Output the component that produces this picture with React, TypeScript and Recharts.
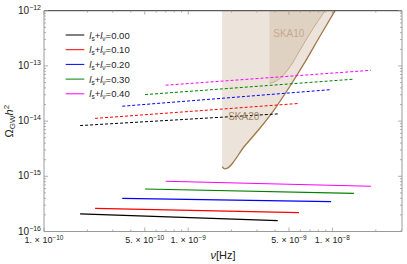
import React from "react";
import {
  ComposedChart,
  Line,
  Area,
  XAxis,
  YAxis,
  Legend,
  Label,
  ReferenceDot,
  ReferenceLine,
} from "recharts";

const FONT = "'Liberation Sans', Arial, sans-serif";

// plot box in page pixels (frame drawn by the axes)
const PLOT = { left: 44, right: 402, top: 10.7, bottom: 231.5 };

// l_s + l_nu values, one colour per curve family
const lsum = ["0.00", "0.10", "0.20", "0.30", "0.40"];
const colors = ["#000000", "#ff0000", "#0000ff", "#008000", "#ff00ff"];

// frequency span of each family [Hz]
const fStart = [1.78e-10, 2.26e-10, 3.49e-10, 5.02e-10, 6.98e-10];
const fEnd = [4.18e-9, 5.87e-9, 9.8e-9, 1.41e-8, 1.85e-8];

// upper (dashed) family
const dashedStart = [8.3e-15, 1.12e-14, 1.86e-14, 3.02e-14, 4.47e-14];
const dashedEnd = [1.35e-14, 2.09e-14, 3.72e-14, 5.75e-14, 8.32e-14];

// lower (solid) family
const solidStart = [2.09e-16, 2.63e-16, 3.98e-16, 5.89e-16, 8.13e-16];
const solidEnd = [1.58e-16, 2.19e-16, 3.47e-16, 4.9e-16, 6.61e-16];

// SKA sensitivity curves
const ska20F = [1.72e-9, 1.793e-9, 2.48e-9, 3.151e-9, 4.004e-9, 5.088e-9, 6.466e-9, 8.216e-9, 1.044e-8];
const ska20Omega = [1.5e-15, 1.36e-15, 3.61e-15, 7.5e-15, 1.69e-14, 4.32e-14, 1.18e-13, 3.48e-13, 1e-12];
const ska10F = [3.66e-9, 4.0e-9, 4.46e-9, 5.09e-9, 5.97e-9, 7.0e-9, 8.89e-9];
const ska10Omega = [4.85e-14, 5.19e-14, 6.39e-14, 9.69e-14, 1.94e-13, 3.9e-13, 1e-12];

// axes
const xDomain = [1e-10, 3.04e-8];
const yDomain = [1e-16, 1e-12];
const xMajor = [1e-10, 5e-10, 1e-9, 5e-9, 1e-8];
const xMant = ["1.", "5.", "1.", "5.", "1."];
const xExp = ["\u221210", "\u221210", "\u22129", "\u22129", "\u22128"];
const xMinor = [
  2e-10, 3e-10, 4e-10, 6e-10, 7e-10, 8e-10, 9e-10,
  2e-9, 3e-9, 4e-9, 6e-9, 7e-9, 8e-9, 9e-9,
  2e-8, 3e-8,
];
const yMajor = [1e-16, 1e-15, 1e-14, 1e-13, 1e-12];
const yExp = ["\u221216", "\u221215", "\u221214", "\u221213", "\u221212"];
const yMinor = [
  2e-16, 3e-16, 4e-16, 5e-16, 6e-16, 7e-16, 8e-16, 9e-16,
  2e-15, 3e-15, 4e-15, 5e-15, 6e-15, 7e-15, 8e-15, 9e-15,
  2e-14, 3e-14, 4e-14, 5e-14, 6e-14, 7e-14, 8e-14, 9e-14,
  2e-13, 3e-13, 4e-13, 5e-13, 6e-13, 7e-13, 8e-13, 9e-13,
];

const FRAME = "#9a9a9a";

const ska20Band = ska20F.map((f, i) => ({ f, band: [ska20Omega[i], 1e-12] }));
const ska20Line = ska20F.map((f, i) => ({ f, v: ska20Omega[i] }));
const ska10Band = ska10F.map((f, i) => ({ f, band: [ska10Omega[i], 1e-12] }));
const ska10Line = ska10F.map((f, i) => ({ f, v: ska10Omega[i] }));

const XTick = (props: any) => {
  const { x, payload } = props;
  const i = xMajor.indexOf(payload.value);
  const len = i >= 0 ? 4 : 2;
  return (
    <g>
      <line x1={x} x2={x} y1={PLOT.bottom} y2={PLOT.bottom - len} stroke={FRAME} strokeWidth={0.8} />
      <line x1={x} x2={x} y1={PLOT.top} y2={PLOT.top + len} stroke={FRAME} strokeWidth={0.8} />
      {i >= 0 && (
        <text x={x} y={PLOT.bottom + 11.5} textAnchor="middle" fontSize={9} fontFamily={FONT} fill="#222">
          {xMant[i]} {"\u00d7"} 10
          <tspan dy={-3.5} fontSize={6.5}>
            {xExp[i]}
          </tspan>
        </text>
      )}
    </g>
  );
};

const YTick = (props: any) => {
  const { y, payload } = props;
  const i = yMajor.indexOf(payload.value);
  const len = i >= 0 ? 4 : 2;
  return (
    <g>
      <line x1={PLOT.left} x2={PLOT.left + len} y1={y} y2={y} stroke={FRAME} strokeWidth={0.8} />
      <line x1={PLOT.right} x2={PLOT.right - len} y1={y} y2={y} stroke={FRAME} strokeWidth={0.8} />
      {i >= 0 && (
        <text x={PLOT.left - 3} y={y + 3} textAnchor="end" fontSize={10} fontFamily={FONT} fill="#222">
          10
          <tspan dy={-4} fontSize={7}>
            {yExp[i]}
          </tspan>
        </text>
      )}
    </g>
  );
};

const XTitle = () => (
  <text x={(PLOT.left + PLOT.right) / 2} y={259} textAnchor="middle" fontSize={11} fontFamily={FONT} fill="#222">
    <tspan fontStyle="italic">{"\u03bd"}</tspan>[Hz]
  </text>
);

const YTitle = () => {
  const cx = 13;
  const cy = (PLOT.top + PLOT.bottom) / 2;
  return (
    <text
      x={cx}
      y={cy}
      transform={`rotate(-90, ${cx}, ${cy})`}
      textAnchor="middle"
      fontSize={11}
      fontFamily={FONT}
      fill="#222"
    >
      {"\u03a9"}
      <tspan dy={2.5} fontSize={8}>
        GW
      </tspan>
      <tspan dy={-2.5} fontStyle="italic">
        h
      </tspan>
      <tspan dy={-4} fontSize={8}>
        2
      </tspan>
    </text>
  );
};

const LegendBox = () => (
  <svg width={90} height={80} style={{ overflow: "visible" }}>
    {lsum.map((v, i) => {
      const y = 7 + i * 14.7;
      return (
        <g key={v}>
          <line x1={3.7} x2={22.3} y1={y} y2={y} stroke={colors[i]} strokeWidth={1} />
          <text x={27.3} y={y + 3.5} fontSize={9.5} fontFamily={FONT} fill="#222">
            <tspan fontStyle="italic">l</tspan>
            <tspan dy={2} fontSize={6.5}>s</tspan>
            <tspan dy={-2}>+</tspan>
            <tspan fontStyle="italic">l</tspan>
            <tspan dy={2} fontSize={6.5}>{"\u03bd"}</tspan>
            <tspan dy={-2}>={v}</tspan>
          </text>
        </g>
      );
    })}
  </svg>
);

export default function App() {
  return (
    <div style={{ position: "absolute", left: 0, top: 0, background: "#fff" }}>
      <ComposedChart
        width={407}
        height={264}
        margin={{ top: PLOT.top, right: 407 - PLOT.right, bottom: 2.5, left: 0 }}
      >
        <XAxis
          dataKey="f"
          type="number"
          scale="log"
          domain={xDomain}
          allowDataOverflow
          ticks={[...xMajor, ...xMinor]}
          interval={0}
          tick={XTick}
          tickLine={false}
          axisLine={{ stroke: FRAME }}
          height={30}
        >
          <Label content={XTitle} />
        </XAxis>
        <YAxis
          type="number"
          scale="log"
          domain={yDomain}
          allowDataOverflow
          ticks={[...yMajor, ...yMinor]}
          interval={0}
          tick={YTick}
          tickLine={false}
          axisLine={{ stroke: FRAME }}
          width={PLOT.left}
        >
          <Label content={YTitle} />
        </YAxis>

        <Area
          data={ska20Band}
          dataKey="band"
          type="monotone"
          stroke="none"
          fill="rgb(160,115,70)"
          fillOpacity={0.2}
          isAnimationActive={false}
        />
        <Area
          data={ska10Band}
          dataKey="band"
          type="monotone"
          stroke="none"
          fill="rgb(160,115,70)"
          fillOpacity={0.15}
          isAnimationActive={false}
        />
        <Line
          data={ska10Line}
          dataKey="v"
          type="monotone"
          stroke="#c6a886"
          strokeWidth={1}
          dot={false}
          isAnimationActive={false}
        />
        <Line
          data={ska20Line}
          dataKey="v"
          type="monotone"
          stroke="#a07848"
          strokeWidth={1.3}
          dot={false}
          isAnimationActive={false}
        />

        {lsum.map((v, i) => (
          <Line
            key={`d${v}`}
            data={[
              { f: fStart[i], v: dashedStart[i] },
              { f: fEnd[i], v: dashedEnd[i] },
            ]}
            dataKey="v"
            stroke={colors[i]}
            strokeWidth={1}
            strokeDasharray="3 2"
            dot={false}
            isAnimationActive={false}
          />
        ))}
        {lsum.map((v, i) => (
          <Line
            key={`s${v}`}
            data={[
              { f: fStart[i], v: solidStart[i] },
              { f: fEnd[i], v: solidEnd[i] },
            ]}
            dataKey="v"
            stroke={colors[i]}
            strokeWidth={1.2}
            dot={false}
            isAnimationActive={false}
          />
        ))}

        <ReferenceLine y={yDomain[1]} stroke="#333" strokeWidth={1} />
        <ReferenceLine x={xDomain[1]} stroke={FRAME} strokeWidth={1} />

        <ReferenceDot
          x={4.99e-9}
          y={3.95e-13}
          r={1}
          fill="none"
          stroke="none"
          label={{ value: "SKA10", position: "center", fill: "#c4a98c", fontSize: 10, fontFamily: FONT }}
        />
        <ReferenceDot
          x={2.43e-9}
          y={1.21e-14}
          r={1}
          fill="none"
          stroke="none"
          label={{ value: "SKA20", position: "center", fill: "#a3825f", fontSize: 10, fontFamily: FONT }}
        />

        <Legend
          layout="vertical"
          align="center"
          verticalAlign="middle"
          content={LegendBox}
          wrapperStyle={{ position: "absolute", left: 62, top: 28, width: 90, height: 80 }}
        />
      </ComposedChart>
    </div>
  );
}
